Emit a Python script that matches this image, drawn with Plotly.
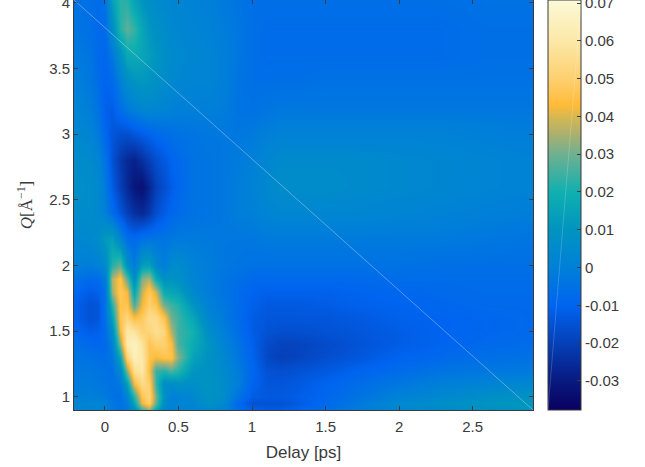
import plotly.graph_objects as go

delay = [-0.2,-0.1,-0.05,0,0.05,0.1,0.15,0.2,0.25,0.3,0.35,0.4,0.45,0.5,0.6,0.7,0.8,0.9,1.0,1.1,1.2,1.3,1.5,1.7,2.0,2.3,2.6,2.9]
q = [4.02,3.8,3.6,3.4,3.2,3.0,2.8,2.6,2.4,2.2,2.0,1.9,1.8,1.7,1.6,1.5,1.4,1.3,1.2,1.1,1.0,0.95,0.9]

# signal, in units of 0.001
signal = [
 [-5,-6,-7,-5,14,23,22,15,10,7,5,4,3,2,1,0,-2,-4,-6,-6,-6,-6,-6,-6,-6,-6,-5,-5],
 [-4,-6,-8,-7,6,22,28,24,16,11,8,6,4,3,2,1,-1,-3,-6,-7,-7,-7,-7,-7,-7,-7,-6,-6],
 [-2,-4,-8,-9,-3,8,17,18,16,13,10,7,5,4,3,2,0,-3,-6,-7,-7,-7,-7,-7,-7,-7,-6,-6],
 [0,-3,-7,-10,-8,0,7,10,11,10,8,6,4,3,2,2,0,-4,-6,-6,-6,-6,-5,-5,-5,-5,-5,-5],
 [2,-1,-5,-11,-12,-6,-2,1,3,4,3,2,1,0,0,0,-1,-4,-5,-4,-3,-3,-3,-3,-3,-3,-3,-3],
 [4,2,-2,-9,-14,-16,-16,-14,-12,-10,-8,-7,-6,-5,-4,-3,-3,-3,-2,0,1,1,1,1,1,1,0,-1],
 [6,5,2,-5,-15,-22,-26,-28,-24,-20,-16,-13,-10,-8,-5,-4,-3,-2,0,3,5,5,5,5,4,3,2,1],
 [7,6,4,-2,-12,-20,-26,-31,-33,-27,-20,-16,-12,-9,-5,-4,-3,-1,1,4,6,6,6,5,4,3,2,1],
 [6,6,4,0,-7,-14,-20,-24,-26,-22,-16,-12,-9,-7,-5,-4,-3,-1,0,2,3,3,3,3,2,1,0,-1],
 [3,4,6,12,14,3,-6,-8,-5,-4,-4,-4,-3,-2,-2,-2,-3,-3,-3,-2,-2,-2,-2,-2,-2,-2,-3,-4],
 [0,-1,1,5,22,28,8,-2,13,14,4,-1,5,6,1,-1,-3,-4,-5,-5,-5,-5,-5,-5,-5,-6,-6,-6],
 [-5,-8,-7,-2,36,46,28,6,32,36,18,8,10,8,2,-1,-4,-6,-8,-8,-8,-8,-8,-8,-7,-7,-7,-7],
 [-9,-12,-11,-5,34,48,42,16,38,48,38,18,16,14,4,-1,-4,-7,-10,-11,-11,-11,-11,-10,-9,-8,-7,-7],
 [-11,-15,-14,-5,22,46,46,26,42,50,46,30,25,22,10,1,-3,-7,-11,-13,-13,-13,-12,-11,-10,-9,-8,-8],
 [-11,-15,-14,-6,14,46,52,44,48,55,54,46,30,25,16,3,-2,-7,-12,-14,-14,-14,-14,-13,-11,-10,-9,-8],
 [-9,-12,-11,-7,6,42,60,58,50,52,56,52,36,25,20,7,0,-6,-12,-15,-16,-16,-15,-14,-12,-10,-9,-8],
 [-6,-8,-9,-8,0,32,62,66,58,46,50,50,44,26,18,10,2,-4,-11,-17,-19,-19,-17,-15,-12,-10,-8,-7],
 [-4,-5,-6,-7,-3,16,52,64,60,46,43,46,46,32,15,9,4,-3,-10,-18,-20,-19,-16,-14,-10,-8,-6,-5],
 [-3,-3,-4,-5,-6,3,32,56,60,44,24,22,26,22,10,9,5,-1,-9,-15,-16,-15,-13,-10,-7,-4,-3,-2],
 [-2,-2,-3,-4,-5,-3,14,42,54,50,24,6,6,8,7,10,6,0,-10,-14,-14,-13,-10,-7,-3,0,2,4],
 [0,0,-1,-2,-5,-6,2,22,46,52,30,8,0,1,3,9,6,-4,-12,-13,-13,-12,-9,-5,1,4,7,9],
 [3,2,3,1,-3,-5,-1,16,42,50,28,6,1,2,3,8,4,-8,-15,-15,-15,-13,-8,-3,4,7,10,11],
 [2,1,1,0,-3,-5,-3,6,24,32,16,3,0,0,1,4,2,-6,-11,-12,-12,-10,-6,-2,3,5,8,10],
]
z = [[v * 0.001 for v in row] for row in signal]

zmin, zmax = -0.0377, 0.0708
stop_values = [-0.0377,-0.03,-0.02,-0.01,0.0,0.01,0.02,0.03,0.035,0.04,0.043,0.05,0.06,0.0708]
stop_colors = ["#0a0060","#081a80","#0540b8","#0064f0","#0080d8","#0094c0","#10b0b0","#70b090","#a8b070","#d8b850","#ffbb38","#fdd070","#fce8a8","#fbfad8"]
colorscale = [[(v - zmin) / (zmax - zmin), c] for v, c in zip(stop_values, stop_colors)]

x_ticks = [0,0.5,1,1.5,2,2.5]
x_labels = ["0","0.5","1","1.5","2","2.5"]
y_ticks = [1,1.5,2,2.5,3,3.5,4]
y_labels = ["1","1.5","2","2.5","3","3.5","4"]
cb_ticks = [-0.03,-0.02,-0.01,0,0.01,0.02,0.03,0.04,0.05,0.06,0.07]
cb_labels = ["-0.03","-0.02","-0.01","0","0.01","0.02","0.03","0.04","0.05","0.06","0.07"]

INK = "#3a3a3a"
FONT = "Liberation Sans, Arial, sans-serif"

fig = go.Figure(go.Heatmap(
    x=delay, y=q, z=z, zmin=zmin, zmax=zmax, colorscale=colorscale, zsmooth="best",
    colorbar=dict(
        x=1.0327, xanchor="left", y=0, yanchor="bottom", len=1, lenmode="fraction",
        thickness=33, thicknessmode="pixels", xpad=0, ypad=0,
        outlinecolor=INK, outlinewidth=1, borderwidth=0,
        ticks="inside", ticklen=4, tickcolor=INK, tickwidth=1,
        tickvals=cb_ticks, ticktext=cb_labels, ticklabeloverflow="allow",
        tickfont=dict(family=FONT, size=15, color=INK),
    ),
))

axis = dict(showgrid=False, zeroline=False, showline=True, linecolor=INK, linewidth=1,
            mirror="ticks", ticks="inside", ticklen=4, tickcolor=INK, tickwidth=1,
            ticklabeloverflow="allow",
            tickfont=dict(family=FONT, size=15, color=INK))

fig.update_layout(
    width=645, height=467, autosize=False,
    margin=dict(l=74, r=112, t=0, b=57, pad=0, autoexpand=False),
    paper_bgcolor="white", plot_bgcolor="white",
    xaxis=dict(axis, range=[-0.21, 2.91], tickvals=x_ticks, ticktext=x_labels, ticklabelstandoff=3,
               title=dict(text="Delay [ps]", font=dict(family=FONT, size=17, color=INK), standoff=12)),
    yaxis=dict(axis, range=[0.9, 4.02], tickvals=y_ticks, ticktext=y_labels,
               title=dict(text="<i>Q</i>[Å<sup>−1</sup>]", font=dict(family="Liberation Serif, serif", size=17, color=INK), standoff=12)),
    shapes=[dict(type="line", xref="paper", yref="paper", x0=0, y0=1, x1=1, y1=0,
                 line=dict(color="rgba(255,255,255,0.55)", width=0.6), layer="above")],
    annotations=[dict(xref="paper", yref="paper", x=1.0327, y=0, axref="pixel", ayref="pixel",
                      ax=33, ay=-410, text=" ", showarrow=True, arrowhead=0, arrowwidth=0.6,
                      arrowcolor="rgba(255,255,255,0.3)", standoff=0, startstandoff=0,
                      xanchor="left", yanchor="bottom")],
)

fig.write_html("out.html", config={"displayModeBar": False},
               post_script="document.body.style.margin='0';")
